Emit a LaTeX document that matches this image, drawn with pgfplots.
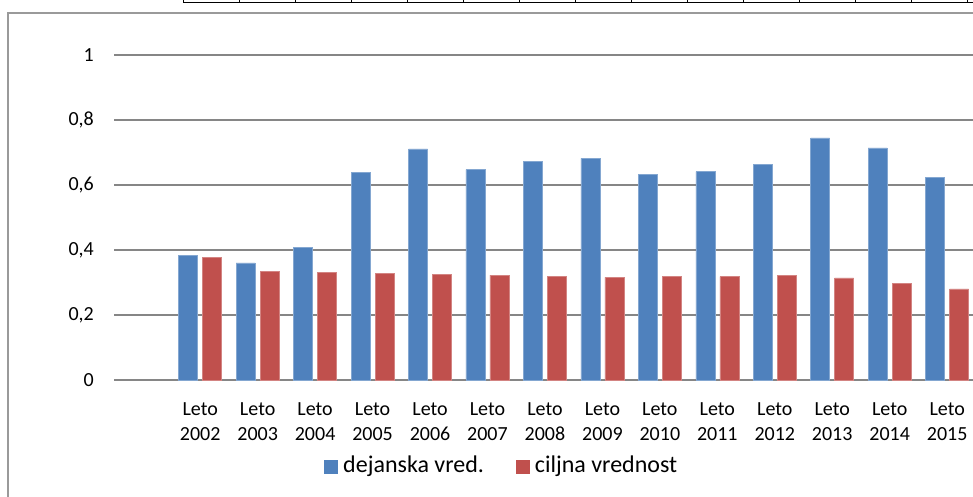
\documentclass[border=0pt]{standalone}
\usepackage{pgfplots}
\pgfplotsset{compat=1.18}
\usepackage{fontspec}
\setmainfont{Carlito}
\definecolor{blueS}{HTML}{4F81BD}
\definecolor{redS}{HTML}{C0504D}
\definecolor{gridc}{HTML}{868686}
\definecolor{framec}{HTML}{9A9A9A}
\begin{document}
\begin{tikzpicture}
\path[use as bounding box] (0,0) rectangle (973bp,497bp);
\draw[framec, line width=2bp] (8bp,-20bp) -- (8bp,484bp) -- (990bp,484bp);
\draw[black, line width=0.9bp] (183bp,495bp) -- (980bp,495bp);
\foreach \x in {183,239,...,967} \draw[black, line width=0.9bp] (\x bp,495bp) -- (\x bp,500bp);
\begin{axis}[
  at={(114bp,117bp)}, anchor=south west, scale only axis,
  width=859bp, height=325bp,
  xmin=-0.5, xmax=14.45, ymin=0, ymax=1,
  ybar=5bp, bar width=19bp,
  axis line style={draw=none},
  major tick length=0pt,
  ytick={0,0.2,0.4,0.6,0.8,1},
  yticklabels={0,{0,2},{0,4},{0,6},{0,8},1},
  ymajorgrids, grid style={gridc, line width=1.6bp},
  xtick={1,2,3,4,5,6,7,8,9,10,11,12,13,14},
  xticklabels={{Leto\\2002},{Leto\\2003},{Leto\\2004},{Leto\\2005},{Leto\\2006},{Leto\\2007},{Leto\\2008},{Leto\\2009},{Leto\\2010},{Leto\\2011},{Leto\\2012},{Leto\\2013},{Leto\\2014},{Leto\\2015}},
  xticklabel style={align=center, font=\fontsize{20bp}{25bp}\selectfont, anchor=north, inner sep=0pt, yshift=-22bp},
  yticklabel style={font=\fontsize{20bp}{24bp}\selectfont, anchor=east, inner sep=0pt, xshift=-20bp},
  legend style={at={(0.2445,-0.2338)}, anchor=north west, draw=none, fill=none, inner sep=0pt,
    font=\fontsize{24bp}{28bp}\selectfont, legend columns=2,
    /tikz/every odd column/.append style={column sep=5bp},
    /tikz/every even column/.append style={column sep=32bp},
    nodes={inner sep=0pt}},
  legend image code/.code={\fill[#1, draw=none] (0bp,-8.4bp) rectangle (14bp,5.6bp);},
]
\addplot[fill=blueS, draw=blueS!70!white, line width=0.5bp] coordinates {
(1,0.383) (2,0.360) (3,0.408) (4,0.639) (5,0.711) (6,0.647) (7,0.673)
(8,0.682) (9,0.633) (10,0.641) (11,0.664) (12,0.745) (13,0.714) (14,0.623)};
\addlegendentry{dejanska vred.}
\addplot[fill=redS, draw=redS!70!white, line width=0.5bp] coordinates {
(1,0.377) (2,0.334) (3,0.330) (4,0.328) (5,0.326) (6,0.323) (7,0.318)
(8,0.316) (9,0.318) (10,0.318) (11,0.322) (12,0.314) (13,0.298) (14,0.280)};
\addlegendentry{ciljna vrednost}
\end{axis}
\end{tikzpicture}
\end{document}
